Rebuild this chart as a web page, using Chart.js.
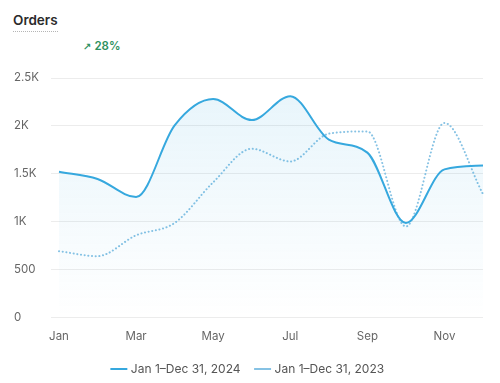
<!DOCTYPE html>
<html>
<head>
<meta charset="utf-8">
<script src="https://cdn.jsdelivr.net/npm/chart.js@4"></script>
<style>
  body { margin: 0; background: #fff; font-family: Inter, sans-serif; }
  #wrap { position: relative; width: 500px; height: 383px; overflow: hidden; }
  .title { position: absolute; left: 13px; top: 12px; font-size: 13.5px; font-weight: 600; color: #2b2b2b;
           padding-bottom: 3px; border-bottom: 1px dotted #b5b5b5; }
  .delta { position: absolute; left: 83px; top: 39px; font-size: 11.5px; font-weight: 600; color: #2e9160; }
  .delta span { font-family: "DejaVu Sans", sans-serif; font-size: 10px; font-weight: bold; margin-right: 3px; }
  #box { position: absolute; left: 0; top: 60px; width: 500px; height: 323px; }
</style>
</head>
<body>
<div id="wrap">
  <div class="title">Orders</div>
  <div class="delta"><span>↗</span>28%</div>
  <div id="box"><canvas id="chart"></canvas></div>
</div>
<script>
const months = ["Jan", "Feb", "Mar", "Apr", "May", "Jun", "Jul", "Aug", "Sep", "Oct", "Nov", "Dec"];
const orders2024 = [1520, 1445, 1255, 2005, 2280, 2060, 2310, 1856, 1720, 985, 1545, 1585];
const orders2023 = [690, 638, 856, 985, 1410, 1760, 1628, 1918, 1942, 948, 2030, 1287];
const label2024 = "Jan 1–Dec 31, 2024";
const label2023 = "Jan 1–Dec 31, 2023";
const yTicks = [0, 500, 1000, 1500, 2000, 2500];

// keep the legend band short so the plot gets the height
const legendHeight = {
  id: "legendHeight",
  afterInit(chart) {
    const fit = chart.legend.fit;
    chart.legend.fit = function () {
      fit.call(this);
      this.height = 36;
    };
  },
};

const ctx = document.getElementById("chart").getContext("2d");

new Chart(ctx, {
  type: "line",
  data: {
    labels: months,
    datasets: [
      {
        label: label2024,
        data: orders2024,
        borderColor: "#36a8de",
        borderWidth: 2,
        pointRadius: 0,
        cubicInterpolationMode: "monotone",
        fill: "origin",
        backgroundColor: (c) => {
          const area = c.chart.chartArea;
          if (!area) return "rgba(54,168,222,0.08)";
          const g = c.chart.ctx.createLinearGradient(0, area.top, 0, area.bottom);
          g.addColorStop(0, "rgba(54,168,222,0.12)");
          g.addColorStop(1, "rgba(54,168,222,0.0)");
          return g;
        },
      },
      {
        label: label2023,
        data: orders2023,
        borderColor: "#86c2e4",
        borderWidth: 2,
        borderDash: [0.1, 3.6],
        borderCapStyle: "round",
        pointRadius: 0,
        cubicInterpolationMode: "monotone",
        fill: false,
      },
    ],
  },
  options: {
    responsive: true,
    maintainAspectRatio: false,
    animation: false,
    layout: { padding: { left: 14, right: 17, top: 18, bottom: 0 } },
    plugins: {
      tooltip: { enabled: false },
      legend: {
        position: "bottom",
        labels: {
          usePointStyle: true,
          pointStyle: "line",
          boxWidth: 13,
          padding: 16,
          color: "#555",
          font: { family: "Inter", size: 12 },
        },
      },
    },
    scales: {
      x: {
        grid: { display: false },
        border: { display: false },
        ticks: {
          autoSkip: false,
          maxRotation: 0,
          padding: 4,
          color: "#666",
          font: { family: "Inter", size: 11.5 },
          callback: (v, i) => (i % 2 === 0 ? months[i] : ""),
        },
      },
      y: {
        min: 0,
        max: 2500,
        afterBuildTicks: (s) => { s.ticks = yTicks.map((v) => ({ value: v })); },
        afterFit: (s) => { s.width = 45; },
        grid: { color: "#ececec" },
        border: { display: false },
        ticks: {
          crossAlign: "far",
          color: "#666",
          font: { family: "Inter", size: 11.5 },
          callback: (v) => (v >= 1000 ? v / 1000 + "K" : v),
        },
      },
    },
  },
  plugins: [legendHeight],
});
</script>
</body>
</html>
